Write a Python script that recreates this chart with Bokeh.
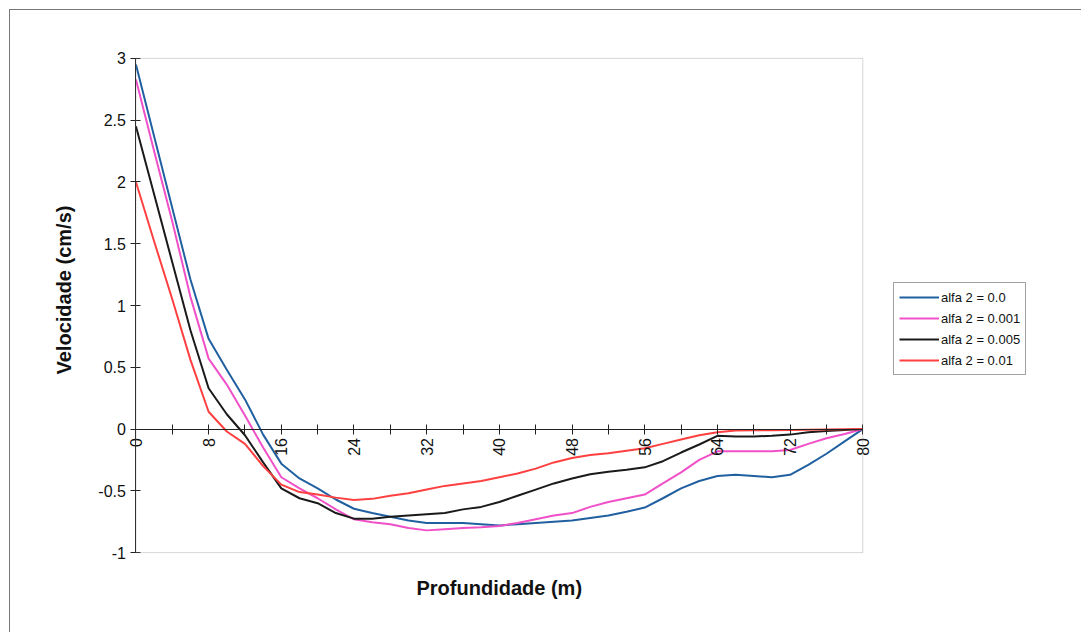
from bokeh.plotting import figure
from bokeh.models import (FixedTicker, Legend, LegendItem, Title, LinearAxis,
                          BoxAnnotation, CustomJSTickFormatter)
from bokeh.embed import file_html
from bokeh.resources import INLINE
import math

depth = list(range(0, 81, 2))

alfa_0_0 = [2.95, 2.37, 1.79, 1.21, 0.73, 0.48, 0.24, -0.045, -0.28, -0.40,
            -0.48, -0.57, -0.645, -0.68, -0.71, -0.74, -0.76, -0.76, -0.76, -0.77,
            -0.78, -0.77, -0.76, -0.75, -0.74, -0.72, -0.70, -0.67, -0.635, -0.56,
            -0.48, -0.42, -0.38, -0.37, -0.38, -0.39, -0.37, -0.29, -0.20, -0.10, 0.0]

alfa_0_001 = [2.83, 2.25, 1.68, 1.07, 0.57, 0.36, 0.11, -0.15, -0.39, -0.48,
              -0.56, -0.65, -0.73, -0.755, -0.77, -0.80, -0.82, -0.81, -0.80, -0.795,
              -0.785, -0.76, -0.73, -0.70, -0.68, -0.63, -0.59, -0.56, -0.53, -0.44,
              -0.35, -0.25, -0.18, -0.18, -0.18, -0.18, -0.17, -0.12, -0.075, -0.04, 0.0]

alfa_0_005 = [2.45, 1.90, 1.35, 0.80, 0.33, 0.12, -0.05, -0.27, -0.48, -0.56,
              -0.60, -0.68, -0.725, -0.725, -0.71, -0.70, -0.69, -0.68, -0.65, -0.63,
              -0.59, -0.54, -0.49, -0.44, -0.40, -0.365, -0.345, -0.33, -0.31, -0.26,
              -0.19, -0.125, -0.055, -0.06, -0.06, -0.055, -0.045, -0.025, -0.015, -0.008, 0.0]

alfa_0_01 = [2.0, 1.52, 1.05, 0.56, 0.14, -0.02, -0.12, -0.30, -0.45, -0.51,
             -0.53, -0.555, -0.575, -0.565, -0.54, -0.52, -0.49, -0.46, -0.44, -0.42,
             -0.39, -0.36, -0.32, -0.27, -0.235, -0.21, -0.195, -0.175, -0.155, -0.12,
             -0.085, -0.05, -0.025, -0.012, -0.01, -0.01, -0.008, -0.005, -0.003, -0.001, 0.0]

series_labels = ["alfa 2 = 0.0", "alfa 2 = 0.001", "alfa 2 = 0.005", "alfa 2 = 0.01"]
series_colors = ["#2160a0", "#f050c8", "#1a1a1a", "#ff4040"]

x_lo, x_hi = 0, 80
y_lo, y_hi = -1, 3
x_major = list(range(0, 81, 8))
x_minor = list(range(4, 81, 8))
y_ticks = [-1, -0.5, 0, 0.5, 1, 1.5, 2, 2.5, 3]

FONT = "Liberation Sans"
TXT = "#111111"
AX = "#222222"

p = figure(width=1072, height=623, output_backend="svg", toolbar_location=None,
           x_range=(-5, 100), y_range=(-1.08, 3.08),
           x_axis_location=None, y_axis_location=None,
           min_border_left=80, min_border_right=38, min_border_top=38, min_border_bottom=71)
p.styles = {"border-left": "1px solid #777777", "border-top": "1px solid #777777",
            "margin-left": "9px", "margin-top": "9px"}
p.background_fill_color = "white"
p.border_fill_color = "white"
p.outline_line_color = None
p.xgrid.visible = False
p.ygrid.visible = False

# plot-area border
p.add_layout(BoxAnnotation(left=x_lo, right=x_hi, bottom=y_lo, top=y_hi,
                           fill_alpha=0, line_color="#7a7a7a", line_width=1))

renderers = []
for ys, c in zip([alfa_0_0, alfa_0_001, alfa_0_005, alfa_0_01], series_colors):
    r = p.line(depth, ys, line_color=c, line_width=2)
    renderers.append(r)

fmt = CustomJSTickFormatter(code="return tick.toString();")

p.add_layout(Title(text="Velocidade (cm/s)", align="left", offset=188, standoff=32,
                   text_font=FONT, text_font_size="20px", text_font_style="bold",
                   text_color=TXT), "left")

ya = LinearAxis(fixed_location=0, bounds=(y_lo, y_hi), ticker=FixedTicker(ticks=y_ticks),
                formatter=fmt)
ya.major_label_text_font = FONT
ya.major_label_text_font_size = "16px"
ya.major_label_text_color = TXT
ya.major_tick_in = 5
ya.major_tick_out = 5
ya.minor_tick_line_color = None
ya.axis_line_color = AX
ya.major_tick_line_color = AX
ya.major_label_standoff = 5
p.add_layout(ya, "left")

p.add_layout(Title(text="Profundidade (m)", align="left", offset=326, standoff=24,
                   text_font=FONT, text_font_size="20px", text_font_style="bold",
                   text_color=TXT), "below")

xa = LinearAxis(fixed_location=0, bounds=(x_lo, x_hi),
                ticker=FixedTicker(ticks=x_major, minor_ticks=x_minor), formatter=fmt)
xa.major_label_orientation = math.pi / 2
xa.major_label_text_font = FONT
xa.major_label_text_font_size = "16px"
xa.major_label_text_color = TXT
xa.major_tick_in = 5
xa.major_tick_out = 5
xa.minor_tick_in = 5
xa.minor_tick_out = 5
xa.axis_line_color = AX
xa.major_tick_line_color = AX
xa.minor_tick_line_color = AX
xa.major_label_standoff = 4
p.add_layout(xa, "below")

legend = Legend(items=[LegendItem(label=l, renderers=[r]) for l, r in zip(series_labels, renderers)],
                location=(803, 187))
legend.label_text_font = FONT
legend.label_text_font_size = "13px"
legend.label_text_color = TXT
legend.glyph_width = 40
legend.glyph_height = 18
legend.label_height = 18
legend.label_standoff = 2
legend.spacing = 3
legend.padding = 5
legend.margin = 0
legend.border_line_color = "#444444"
legend.border_line_width = 1
legend.background_fill_alpha = 1
p.add_layout(legend, "center")

open("out.html", "w").write(file_html(p, INLINE))
